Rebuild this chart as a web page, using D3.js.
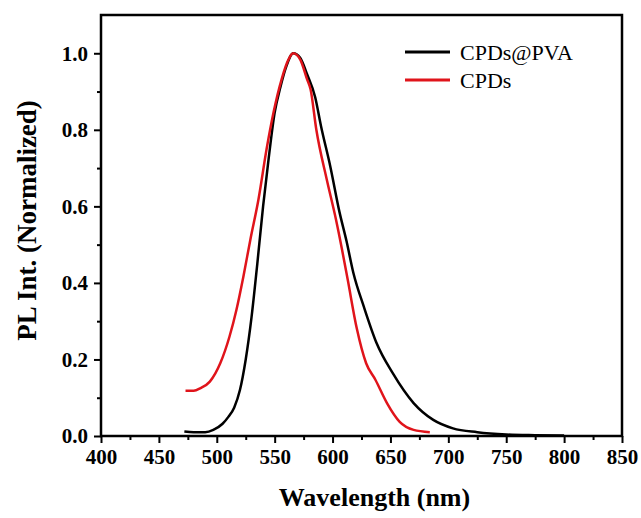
<!DOCTYPE html>
<html>
<head>
<meta charset="utf-8">
<script src="https://cdn.jsdelivr.net/npm/d3@7"></script>
<style>
  body { margin: 0; background: #fff; }
  text { font-family: "Liberation Serif", "Times New Roman", serif; }
</style>
</head>
<body>
<div id="container"></div>
<script>
/* CONSTANTS AND GLOBALS */
const width = 641,
  height = 518,
  margin = { top: 15, bottom: 82, left: 101, right: 19 };

// DATA (wavelength in nm, normalized PL)
const pvaWavelength = [472, 480, 490, 497, 505, 510, 515, 520, 525, 530, 535, 540, 545, 550, 555, 560, 566, 572, 578, 585, 590, 598, 606, 612, 618, 627, 638, 652, 670, 687, 704, 725, 750, 775, 800];
const pvaIntensity = [0.012, 0.010, 0.010, 0.016, 0.032, 0.050, 0.074, 0.12, 0.20, 0.31, 0.45, 0.60, 0.73, 0.845, 0.912, 0.965, 1.0, 0.988, 0.945, 0.885, 0.81, 0.705, 0.585, 0.51, 0.426, 0.338, 0.243, 0.164, 0.086, 0.042, 0.020, 0.010, 0.004, 0.002, 0.001];

const cpdWavelength = [473, 480, 486, 494, 503, 511, 517, 523, 529, 536, 543, 549, 556, 562, 566, 572, 578, 581, 586, 595, 603, 608, 613, 621, 629, 637, 647, 658, 670, 684];
const cpdIntensity = [0.118, 0.118, 0.125, 0.142, 0.19, 0.26, 0.33, 0.417, 0.513, 0.618, 0.749, 0.845, 0.932, 0.984, 1.0, 0.984, 0.932, 0.906, 0.80, 0.67, 0.565, 0.49, 0.41, 0.28, 0.19, 0.147, 0.086, 0.037, 0.016, 0.010];

const seriesNames = ["CPDs@PVA", "CPDs"];
const seriesColors = ["#000000", "#e0141b"];

const xTicks = [400, 450, 500, 550, 600, 650, 700, 750, 800, 850];
const xMinorTicks = [425, 475, 525, 575, 625, 675, 725, 775, 825];
const yTicks = [0, 0.2, 0.4, 0.6, 0.8, 1.0];
const yMinorTicks = [0.1, 0.3, 0.5, 0.7, 0.9];

// APPEND SVG
const svg = d3.select("#container")
  .append("svg")
  .attr("width", width)
  .attr("height", height)

// SCALES
const xScale = d3.scaleLinear()
  .domain([400, 850])
  .range([margin.left, width - margin.right])

const yScale = d3.scaleLinear()
  .domain([0, 1.1])
  .range([height - margin.bottom, margin.top])

// MINOR TICKS
svg.append("g")
  .attr("transform", `translate(0, ${height - margin.bottom})`)
  .call(d3.axisBottom(xScale).tickValues(xMinorTicks).tickSize(4).tickFormat("").tickSizeOuter(0))
  .call(g => g.select(".domain").remove())
  .call(g => g.selectAll("line").attr("stroke-width", 2))

svg.append("g")
  .attr("transform", `translate(${margin.left}, 0)`)
  .call(d3.axisLeft(yScale).tickValues(yMinorTicks).tickSize(4).tickFormat("").tickSizeOuter(0))
  .call(g => g.select(".domain").remove())
  .call(g => g.selectAll("line").attr("stroke-width", 2))

// MAJOR AXES
const xAxis = svg.append("g")
  .attr("transform", `translate(0, ${height - margin.bottom})`)
  .call(d3.axisBottom(xScale).tickValues(xTicks).tickSize(7).tickPadding(6).tickSizeOuter(0))

xAxis.select(".domain").remove()
xAxis.selectAll("line").attr("stroke-width", 2)
xAxis.selectAll("text")
  .attr("font-family", "'Liberation Serif', 'Times New Roman', serif")
  .attr("font-size", 21)
  .attr("font-weight", "bold")
  .attr("fill", "#000")

const yAxis = svg.append("g")
  .attr("transform", `translate(${margin.left}, 0)`)
  .call(d3.axisLeft(yScale).tickValues(yTicks).tickSize(7).tickPadding(6).tickFormat(d3.format(".1f")).tickSizeOuter(0))

yAxis.select(".domain").remove()
yAxis.selectAll("line").attr("stroke-width", 2)
yAxis.selectAll("text")
  .attr("font-family", "'Liberation Serif', 'Times New Roman', serif")
  .attr("font-size", 21)
  .attr("font-weight", "bold")
  .attr("fill", "#000")

// FRAME
svg.append("rect")
  .attr("x", margin.left)
  .attr("y", margin.top)
  .attr("width", width - margin.left - margin.right)
  .attr("height", height - margin.top - margin.bottom)
  .attr("fill", "none")
  .attr("stroke", "black")
  .attr("stroke-width", 2.5)

// LINES
const lineGen = d3.line()
  .x(d => xScale(d[0]))
  .y(d => yScale(d[1]))
  .curve(d3.curveMonotoneX)

const pvaData = pvaWavelength.map((w, i) => [w, pvaIntensity[i]])
const cpdData = cpdWavelength.map((w, i) => [w, cpdIntensity[i]])

svg.selectAll("path.spectrum")
  .data([pvaData, cpdData])
  .join("path")
  .attr("class", "spectrum")
  .attr("d", d => lineGen(d))
  .attr("fill", "none")
  .attr("stroke", (d, i) => seriesColors[i])
  .attr("stroke-width", 2.5)
  .attr("stroke-linejoin", "round")

// LEGEND
const legend = svg.selectAll("g.legend")
  .data(seriesNames)
  .join("g")
  .attr("class", "legend")
  .attr("transform", (d, i) => `translate(405, ${52 + i * 28})`)

legend.append("line")
  .attr("x1", 0)
  .attr("x2", 45)
  .attr("stroke", (d, i) => seriesColors[i])
  .attr("stroke-width", 3)

legend.append("text")
  .attr("x", 55)
  .attr("y", 8)
  .attr("font-size", 22)
  .attr("fill", "#000")
  .text(d => d)

// AXIS TITLES
svg.append("text")
  .attr("x", (margin.left + width - margin.right) / 2 + 13)
  .attr("y", 506)
  .attr("text-anchor", "middle")
  .attr("font-size", 26)
  .attr("font-weight", "bold")
  .text("Wavelength (nm)")

svg.append("text")
  .attr("transform", `translate(36, ${(margin.top + height - margin.bottom) / 2 - 5}) rotate(-90)`)
  .attr("text-anchor", "middle")
  .attr("font-size", 27)
  .attr("font-weight", "bold")
  .text("PL Int. (Normalized)")
</script>
</body>
</html>
